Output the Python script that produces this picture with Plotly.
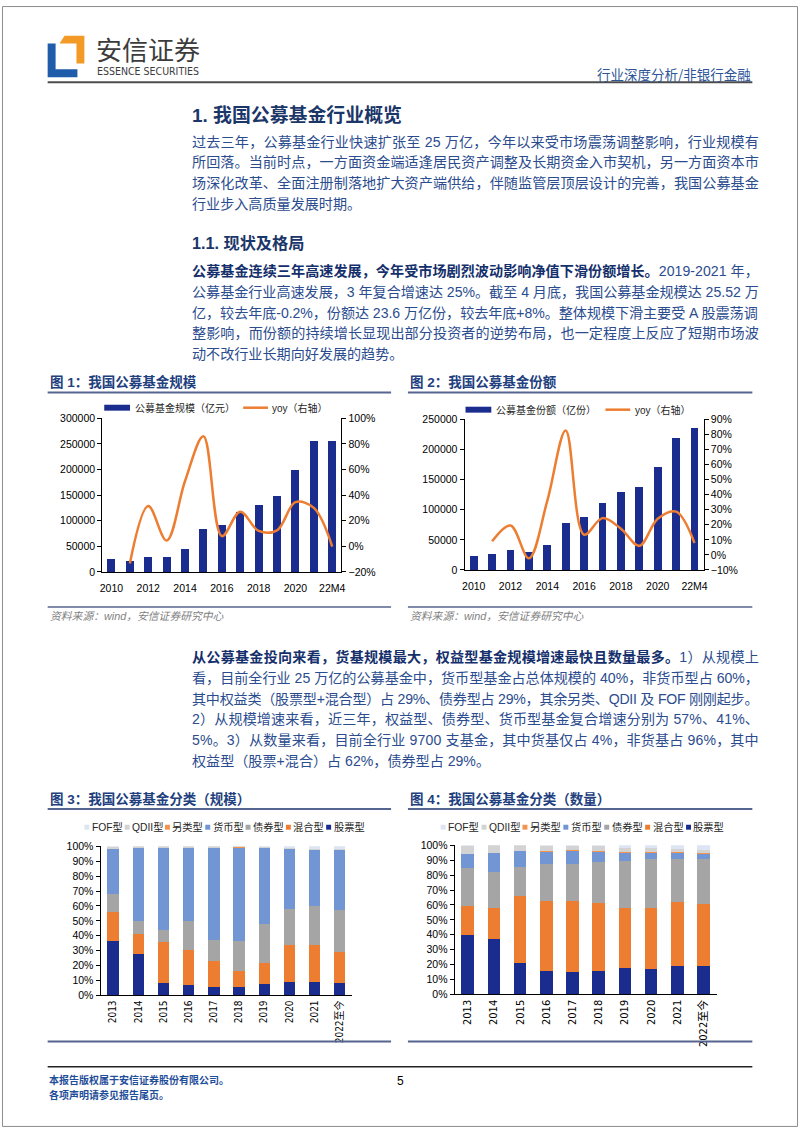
import re
import plotly.graph_objects as go

W, H = 802, 1133
CJK = "Noto Sans CJK SC"
BODY_FONT = "Liberation Sans, Arial, Noto Sans CJK SC"
NUM_FONT = "Liberation Sans, Arial, Noto Sans CJK SC"
NARROW_FONT = "Liberation Sans Narrow, DejaVu Sans Condensed, Liberation Sans, Noto Sans CJK SC"

# ---------------- data ----------------
years = ["2010", "2011", "2012", "2013", "2014", "2015", "2016",
         "2017", "2018", "2019", "2020", "2021", "22M4"]
year_ticks = ["2010", "2012", "2014", "2016", "2018", "2020", "22M4"]

aum = [25200, 21700, 28500, 29800, 45600, 83500, 92000,
       117000, 130500, 148000, 199500, 256500, 255200]          # 亿元
aum_yoy = [None, -13.5, 31.5, 4.5, 51, 86, 8, 27, 12, 12.5, 34.5, 30, -0.2]   # %

shares = [23500, 26800, 32300, 29500, 42100, 77100, 88100,
          111600, 129100, 137900, 170700, 218800, 236000]       # 亿份
shares_yoy = [None, 9, 19.5, -2.3, 36, 82.6, 13.4, 24.4, 17.4, 6, 24, 28.7, 7.9]  # %

cls_years = ["2013", "2014", "2015", "2016", "2017", "2018", "2019", "2020", "2021", "2022至今"]
fund_types = ["股票型", "混合型", "债券型", "货币型", "另类型", "QDII型", "FOF型"]   # bottom -> top

scale_share = {   # % of AUM
    "股票型": [36.5, 27.7, 8.2, 7.1, 5.5, 5.5, 7.5, 8.8, 8.8, 8.2],
    "混合型": [19.5, 13.7, 27.6, 23.2, 17.7, 11.1, 14.0, 24.8, 24.8, 21.2],
    "债券型": [12.0, 8.4, 8.4, 19.5, 13.7, 19.9, 26.7, 24.6, 26.6, 28.1],
    "货币型": [30.0, 49.3, 54.7, 49.1, 62.0, 62.6, 50.7, 39.8, 37.1, 39.8],
    "另类型": [0.1, 0.0, 0.1, 0.1, 0.1, 0.1, 0.1, 0.2, 0.3, 0.3],
    "QDII型": [1.4, 0.8, 1.0, 1.0, 0.9, 0.7, 0.7, 0.8, 0.9, 0.9],
    "FOF型": [0.5, 0.1, 0.0, 0.0, 0.1, 0.1, 0.3, 1.0, 1.5, 1.5],
}
count_share = {   # % of number of funds
    "股票型": [39.8, 36.9, 20.8, 15.9, 15.3, 15.9, 17.5, 16.8, 18.8, 18.8],
    "混合型": [19.3, 20.8, 44.9, 46.5, 47.5, 45.2, 40.5, 41.2, 42.9, 42.0],
    "债券型": [25.4, 24.6, 19.9, 24.8, 25.0, 27.8, 31.4, 32.7, 29.0, 29.7],
    "货币型": [9.7, 12.6, 10.4, 8.4, 8.7, 6.7, 5.7, 4.4, 4.0, 3.5],
    "另类型": [0.2, 0.2, 0.2, 0.3, 0.3, 0.4, 0.6, 0.5, 0.6, 0.6],
    "QDII型": [5.3, 4.8, 3.7, 3.9, 3.0, 3.6, 2.5, 2.4, 2.0, 2.0],
    "FOF型": [0.3, 0.1, 0.1, 0.2, 0.2, 0.4, 1.8, 2.0, 2.7, 3.4],
}
legend_order = ["FOF型", "QDII型", "另类型", "货币型", "债券型", "混合型", "股票型"]

para1 = [
    "过去三年，公募基金行业快速扩张至 25 万亿，今年以来受市场震荡调整影响，行业规模有",
    "所回落。当前时点，一方面资金端适逢居民资产调整及长期资金入市契机，另一方面资本市",
    "场深化改革、全面注册制落地扩大资产端供给，伴随监管层顶层设计的完善，我国公募基金",
    "行业步入高质量发展时期。",
]
para2_bold = "公募基金连续三年高速发展，今年受市场剧烈波动影响净值下滑份额增长。"
para2 = [
    "2019-2021 年，",
    "公募基金行业高速发展，3 年复合增速达 25%。截至 4 月底，我国公募基金规模达 25.52 万",
    "亿，较去年底-0.2%，份额达 23.6 万亿份，较去年底+8%。整体规模下滑主要受 A 股震荡调",
    "整影响，而份额的持续增长显现出部分投资者的逆势布局，也一定程度上反应了短期市场波",
    "动不改行业长期向好发展的趋势。",
]
para3_bold = "从公募基金投向来看，货基规模最大，权益型基金规模增速最快且数量最多。"
para3 = [
    "1）从规模上",
    "看，目前全行业 25 万亿的公募基金中，货币型基金占总体规模的 40%，非货币型占 60%，",
    "其中权益类（股票型+混合型）占 29%、债券型占 29%，其余另类、QDII 及 FOF 刚刚起步。",
    "2）从规模增速来看，近三年，权益型、债券型、货币型基金复合增速分别为 57%、41%、",
    "5%。3）从数量来看，目前全行业 9700 支基金，其中货基仅占 4%，非货基占 96%，其中",
    "权益型（股票+混合）占 62%，债券型占 29%。",
]

# ---------------- styles ----------------
NAVY = "#1B2C8F"
ORANGE = "#ED7D31"
type_colors = {
    "股票型": "#1B2C8F", "混合型": "#ED7D31", "债券型": "#A5A5A5", "货币型": "#7196D3",
    "另类型": "#F2944F", "QDII型": "#D3D3D3", "FOF型": "#DDE5F2",
}
BODY_COLOR = "#2B4C8E"
BOLD_COLOR = "#142F6B"
HEAD_COLOR = "#1B3668"
RULE_COLOR = "#56658F"
COL_L, COL_R = 190, 757
BODY_FS = 14.1

annotations, shapes = [], []


def fx(x):
    return x / W


def fy(y):
    return 1 - y / H


def ann(x, y, s, size, color="#000000", family=CJK, xanchor="left", yanchor="middle"):
    annotations.append(dict(xref="paper", yref="paper", x=fx(x), y=fy(y), text=s,
                            showarrow=False, xanchor=xanchor, yanchor=yanchor, align="left",
                            borderpad=0, font=dict(size=size, color=color, family=family)))


def hline(x0, x1, y, color, width):
    shapes.append(dict(type="line", xref="paper", yref="paper", x0=fx(x0), x1=fx(x1),
                       y0=fy(y), y1=fy(y), line=dict(color=color, width=width)))


def rect(x0, y0, x1, y1, color, line_color=None):
    shapes.append(dict(type="rect", xref="paper", yref="paper", x0=fx(x0), x1=fx(x1),
                       y0=fy(y1), y1=fy(y0), fillcolor=color,
                       line=dict(width=1 if line_color else 0, color=line_color or color)))


def poly(points, color):
    d = "M " + " L ".join(f"{fx(x):.5f},{fy(y):.5f}" for x, y in points) + " Z"
    shapes.append(dict(type="path", xref="paper", yref="paper", path=d,
                       fillcolor=color, line=dict(width=0)))


ARIAL = {" ": 0.278, "%": 0.889, "-": 0.333, ".": 0.278, "+": 0.584, "A": 0.667,
         "Q": 0.778, "D": 0.722, "I": 0.278, "F": 0.611, "O": 0.778}
TAG = re.compile(r"<[^>]+>")


def natural_width(s, fs):
    plain = TAG.sub("", s)
    w = 0.0
    for ch in plain:
        w += (ARIAL.get(ch, 0.556) * fs) if ord(ch) < 128 else fs
    return w, len(plain)


def body_line(y, s, justify=True):
    ls = 0.0
    if justify:
        w, n = natural_width(s, BODY_FS)
        ls = (COL_R - COL_L - w) / max(n - 1, 1)
    ann(COL_L, y, f"<span style='letter-spacing:{ls:.2f}px'>{s}</span>", BODY_FS, BODY_COLOR, BODY_FONT)


# ---------------- page furniture ----------------
shapes.append(dict(type="rect", xref="paper", yref="paper", x0=0.0006, x1=0.9994, y0=0.0005, y1=0.9995,
                   line=dict(color="#8C8C8C", width=1), fillcolor="rgba(0,0,0,0)"))
poly([(46, 38), (54, 38), (54, 64), (76, 64), (76, 72), (46, 72)], "#1F5CA9")
poly([(58, 38), (63, 30), (83, 30), (83, 58), (75, 58), (75, 38)], "#F39A26")
ann(94, 43, "安信证券", 26, "#3C3C3C", CJK)
ann(95, 65.5, "ESSENCE SECURITIES", 10.5, "#3C3C3C", NARROW_FONT)
ann(756, 69, "行业深度分析/非银行金融", 13.5, "#2E5597", CJK, xanchor="right")
hline(46, 756, 77, "#4D4D4D", 2)

ann(COL_L, 110, "<b>1. 我国公募基金行业概览</b>", 18.9, HEAD_COLOR, BODY_FONT)
for i, s in enumerate(para1):
    body_line(137 + 21 * i, s, justify=(i < len(para1) - 1))

ann(COL_L, 240, "<b>1.1. 现状及格局</b>", 16.2, HEAD_COLOR, BODY_FONT)
lines2 = [f"<b><span style='color:{BOLD_COLOR}'>{para2_bold}</span></b>" + para2[0]] + para2[1:]
for i, s in enumerate(lines2):
    body_line(268 + 21 * i, s, justify=(i < len(lines2) - 1))

lines3 = [f"<b><span style='color:{BOLD_COLOR}'>{para3_bold}</span></b>" + para3[0]] + para3[1:]
for i, s in enumerate(lines3):
    body_line(658 + 21 * i, s, justify=(i < len(lines3) - 1))

# chart titles, rules and sources
TITLE_COLOR = "#22407E"
ann(47, 380, "<b>图 1：我国公募基金规模</b>", 13.5, TITLE_COLOR, BODY_FONT)
ann(410, 380, "<b>图 2：我国公募基金份额</b>", 13.5, TITLE_COLOR, BODY_FONT)
hline(46, 392, 390.7, RULE_COLOR, 2)
hline(409, 756, 390.7, RULE_COLOR, 2)
hline(46, 392, 607.5, RULE_COLOR, 1.6)
hline(409, 756, 607.5, RULE_COLOR, 1.6)
ann(47, 617, "<i>资料来源：wind，安信证券研究中心</i>", 10.8, "#7F7F7F", BODY_FONT)
ann(410, 617, "<i>资料来源：wind，安信证券研究中心</i>", 10.8, "#7F7F7F", BODY_FONT)

ann(47, 801.5, "<b>图 3：我国公募基金分类（规模）</b>", 13.5, TITLE_COLOR, BODY_FONT)
ann(410, 801.5, "<b>图 4：我国公募基金分类（数量）</b>", 13.5, TITLE_COLOR, BODY_FONT)
hline(46, 392, 811.7, RULE_COLOR, 2)
hline(409, 756, 811.7, RULE_COLOR, 2)
hline(46, 392, 1046.7, RULE_COLOR, 2)
hline(409, 756, 1046.7, RULE_COLOR, 2)

# footer
hline(46, 756, 1072, "#222222", 1.5)
ann(46, 1085, "<b>本报告版权属于安信证券股份有限公司。</b>", 10, "#1F4E9A", CJK)
ann(46, 1100, "<b>各项声明请参见报告尾页。</b>", 10, "#1F4E9A", CJK)
ann(401, 1087, "5", 12, "#000000", NUM_FONT, xanchor="center")

# manual legends for chart 1 / 2
LEG_COLOR = "#262626"
rect(103, 403, 129, 409, NAVY)
ann(133, 406, "公募基金规模（亿元）", 10, LEG_COLOR, BODY_FONT)
hline(243, 268, 406, ORANGE, 2.5)
ann(271, 406, "yoy（右轴）", 10, LEG_COLOR, BODY_FONT)

rect(467, 405, 493, 411, NAVY)
ann(497, 408, "公募基金份额（亿份）", 10, LEG_COLOR, BODY_FONT)
hline(608, 633, 408, ORANGE, 2.5)
ann(637, 408, "yoy（右轴）", 10, LEG_COLOR, BODY_FONT)

# legends for chart 3 / 4
for x0, pitch in ((83, 40.6), (442, 41.2)):
    for k, t in enumerate(legend_order):
        xs = x0 + pitch * k
        rect(xs, 827.5, xs + 5, 832.5, type_colors[t])
        ann(xs + 6.5, 830, t, 10.3, LEG_COLOR, BODY_FONT)

# ---------------- traces ----------------
fig = go.Figure()
fig.add_trace(go.Bar(x=years, y=aum, width=0.44, marker=dict(color=NAVY, line=dict(width=0)),
                     xaxis="x", yaxis="y", showlegend=False))
fig.add_trace(go.Scatter(x=years, y=aum_yoy, mode="lines", line=dict(color=ORANGE, width=2.5, shape="spline"),
                         xaxis="x", yaxis="y2", showlegend=False))
fig.add_trace(go.Bar(x=years, y=shares, width=0.42, marker=dict(color=NAVY, line=dict(width=0)),
                     xaxis="x2", yaxis="y3", showlegend=False))
fig.add_trace(go.Scatter(x=years, y=shares_yoy, mode="lines", line=dict(color=ORANGE, width=2.5, shape="spline"),
                         xaxis="x2", yaxis="y4", showlegend=False))
for t in fund_types:
    fig.add_trace(go.Bar(x=cls_years, y=scale_share[t], width=0.45,
                         marker=dict(color=type_colors[t], line=dict(width=0)),
                         xaxis="x3", yaxis="y5", showlegend=False))
for t in fund_types:
    fig.add_trace(go.Bar(x=cls_years, y=count_share[t], width=0.48,
                         marker=dict(color=type_colors[t], line=dict(width=0)),
                         xaxis="x4", yaxis="y6", showlegend=False))

tickfont = dict(family=NUM_FONT, size=10.5, color="#000000")
base = dict(showline=True, linecolor="#000000", linewidth=1, showgrid=False, zeroline=False,
            tickfont=tickfont, tickcolor="#000000", fixedrange=True)

fig.update_layout(
    width=W, height=H, margin=dict(l=0, r=0, t=0, b=0),
    paper_bgcolor="white", plot_bgcolor="white", barmode="stack", showlegend=False,
    annotations=annotations, shapes=shapes,
    xaxis=dict(base, domain=[fx(101), fx(342)], anchor="y", type="category", range=[-0.5, 12.5],
               tickvals=year_ticks, ticks="", ticklabelstandoff=6),
    yaxis=dict(base, domain=[fy(572), fy(416.7)], anchor="x", range=[0, 300000], dtick=50000,
               tickformat="d", ticks="outside", ticklen=4),
    yaxis2=dict(base, overlaying="y", side="right", anchor="x", range=[-20, 100], dtick=20,
                ticksuffix="%", ticks="outside", ticklen=4),
    xaxis2=dict(base, domain=[fx(466), fx(707)], anchor="y3", type="category", range=[-0.5, 12.5],
                tickvals=year_ticks, ticks="", ticklabelstandoff=6),
    yaxis3=dict(base, domain=[fy(570), fy(417.7)], anchor="x2", range=[0, 250000], dtick=50000,
                tickformat="d", ticks="outside", ticklen=4),
    yaxis4=dict(base, overlaying="y3", side="right", anchor="x2", range=[-10, 90], dtick=10,
                ticksuffix="%", ticks="outside", ticklen=4),
    xaxis3=dict(base, domain=[fx(99.3), fx(353)], anchor="y5", type="category", range=[-0.5, 9.5],
                ticks="", tickangle=-90, tickfont=dict(family=NARROW_FONT, size=10, color="#000000")),
    yaxis5=dict(base, domain=[fy(1000), fy(849.3)], anchor="x3", range=[0, 100], dtick=10,
                ticksuffix="%", ticks="outside", ticklen=4),
    xaxis4=dict(base, domain=[fx(456), fx(720)], anchor="y6", type="category", range=[-0.5, 9.5],
                ticks="", tickangle=-90, tickfont=dict(family=NARROW_FONT, size=11, color="#000000")),
    yaxis6=dict(base, domain=[fy(999), fy(848.3)], anchor="x4", range=[0, 100], dtick=10,
                ticksuffix="%", ticks="outside", ticklen=4),
)

fig.write_html("out.html", config={"displayModeBar": False, "staticPlot": True},
               post_script="document.body.style.margin='0px';document.body.style.overflow='hidden';")
